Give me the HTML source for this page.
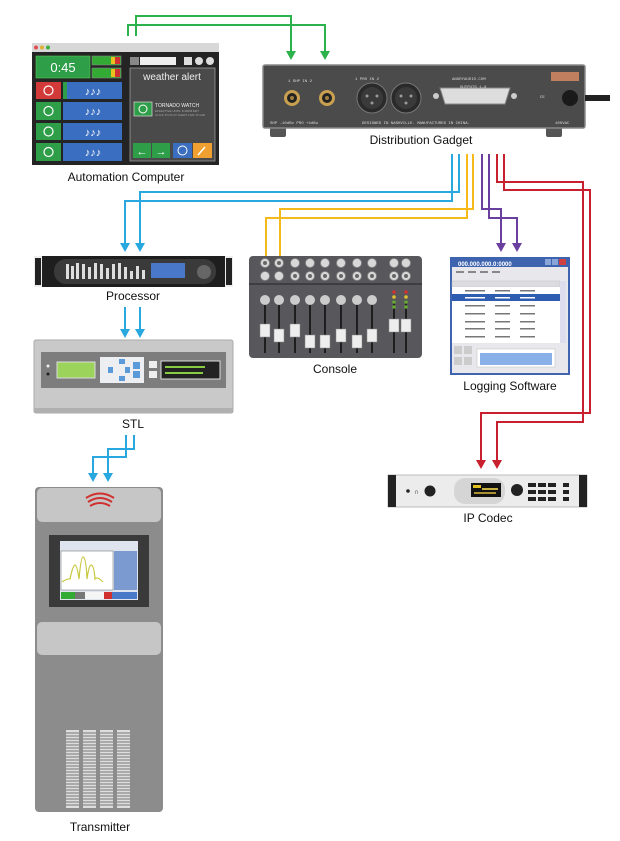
<!DOCTYPE html>
<html><head><meta charset="utf-8"><style>
html,body{margin:0;padding:0;background:#fff;}
svg{display:block;font-family:"Liberation Sans",Arial,sans-serif;}
</style></head><body>
<svg width="620" height="841" viewBox="0 0 620 841" xmlns="http://www.w3.org/2000/svg">
<defs>
<marker id="ag" markerWidth="8" markerHeight="8" refX="4" refY="7" orient="auto" markerUnits="userSpaceOnUse"><path d="M0,0 L8,0 L4,8z" fill="#2bb24c" transform="translate(0,0)"/></marker>
</defs>
<!-- ============ CONNECTORS ============ -->
<g fill="none" stroke-width="2">
 <!-- green -->
 <path d="M128,36 V25 H325 V52" stroke="#2bb24c"/>
 <path d="M136,36 V16 H291 V52" stroke="#2bb24c"/>
 <!-- blue -->
 <path d="M452,154 V201 H125 V244" stroke="#29a8e0"/>
 <path d="M459,154 V192 H140 V244" stroke="#29a8e0"/>
 <path d="M125,307 V330" stroke="#29a8e0"/>
 <path d="M140,307 V330" stroke="#29a8e0"/>
 <path d="M126,435 V457 H93 V474" stroke="#29a8e0"/>
 <path d="M134,435 V449 H108 V474" stroke="#29a8e0"/>
 <!-- yellow -->
 <path d="M467,154 V218 H266 V268" stroke="#f6b91a"/>
 <path d="M473,154 V209 H280 V268" stroke="#f6b91a"/>
 <!-- purple -->
 <path d="M482,154 V209 H501 V244" stroke="#6b3fa0"/>
 <path d="M489,154 V218 H517 V244" stroke="#6b3fa0"/>
 <!-- red -->
 <path d="M497,154 V182 H583 V422 H497 V461" stroke="#c8202e"/>
 <path d="M504,154 V190 H590 V413 H481 V461" stroke="#c8202e"/>
</g>
<g>
 <path d="M286,51 h10 l-5,9z M320,51 h10 l-5,9z" fill="#2bb24c"/>
 <path d="M120,243 h10 l-5,9z M135,243 h10 l-5,9z M120,329 h10 l-5,9z M135,329 h10 l-5,9z M88,473 h10 l-5,9z M103,473 h10 l-5,9z" fill="#29a8e0"/>
 <path d="M261,267 h10 l-5,9z M275,267 h10 l-5,9z" fill="#f6b91a"/>
 <path d="M496,243 h10 l-5,9z M512,243 h10 l-5,9z" fill="#6b3fa0"/>
 <path d="M476,460 h10 l-5,9z M492,460 h10 l-5,9z" fill="#c8202e"/>
</g>

<!-- ============ AUTOMATION COMPUTER ============ -->
<g>
 <rect x="32" y="43" width="187" height="122" fill="#242424"/>
 <rect x="32" y="43" width="187" height="9" fill="#d8d8d8"/>
 <circle cx="36" cy="47.5" r="2" fill="#e05050"/><circle cx="42" cy="47.5" r="2" fill="#e0b030"/><circle cx="48" cy="47.5" r="2" fill="#40b040"/>
 <rect x="36" y="56" width="54" height="22" fill="#2e9e48" stroke="#5c5" stroke-width="0.6"/>
 <text x="63" y="72" font-size="13" fill="#fff" text-anchor="middle">0:45</text>
 <rect x="92" y="56" width="29" height="9" fill="#3a3" stroke="#888" stroke-width="0.6"/><rect x="111" y="57" width="4" height="7" fill="#e8c020"/><rect x="115" y="57" width="5" height="7" fill="#d03030"/>
 <rect x="92" y="68" width="29" height="10" fill="#3a3" stroke="#888" stroke-width="0.6"/><rect x="111" y="69" width="4" height="8" fill="#e8c020"/><rect x="115" y="69" width="5" height="8" fill="#d03030"/>
 <g font-size="11" fill="#fff" text-anchor="middle">
  <rect x="36" y="82" width="25" height="17" fill="#d23a3a"/><circle cx="48.5" cy="90.5" r="4.5" fill="none" stroke="#fff" stroke-width="1.2"/>
  <rect x="63" y="82" width="59" height="17" fill="#3a6ec0"/><rect x="63" y="82" width="4" height="17" fill="#2e9e48"/><text x="93" y="95">♪♪♪</text>
  <rect x="36" y="102" width="25" height="18" fill="#2e9e48"/><circle cx="48.5" cy="111" r="4.5" fill="none" stroke="#fff" stroke-width="1.2"/>
  <rect x="63" y="102" width="59" height="18" fill="#3a6ec0"/><text x="93" y="115">♪♪♪</text>
  <rect x="36" y="123" width="25" height="17" fill="#2e9e48"/><circle cx="48.5" cy="131.5" r="4.5" fill="none" stroke="#fff" stroke-width="1.2"/>
  <rect x="63" y="123" width="59" height="17" fill="#3a6ec0"/><text x="93" y="136">♪♪♪</text>
  <rect x="36" y="143" width="25" height="18" fill="#2e9e48"/><circle cx="48.5" cy="152" r="4.5" fill="none" stroke="#fff" stroke-width="1.2"/>
  <rect x="63" y="143" width="59" height="18" fill="#3a6ec0"/><text x="93" y="156">♪♪♪</text>
 </g>
 <rect x="130" y="57" width="9" height="8" fill="#888"/><rect x="140" y="57" width="36" height="8" fill="#eee"/>
 <rect x="184" y="57" width="8" height="8" fill="#ddd"/><circle cx="199" cy="61" r="4" fill="#ddd"/><circle cx="210" cy="61" r="4" fill="#ddd"/>
 <rect x="130" y="68" width="85" height="93" fill="#4a4a4a" stroke="#999" stroke-width="0.8"/>
 <text x="172" y="80" font-size="10" fill="#eee" text-anchor="middle">weather alert</text>
 <rect x="134" y="102" width="18" height="14" fill="#2e9e48" stroke="#ccc" stroke-width="0.8"/><circle cx="143" cy="109" r="4" fill="none" stroke="#fff"/>
 <text x="155" y="107" font-size="5" fill="#eee">TORNADO WATCH</text>
 <text x="155" y="112" font-size="3" fill="#aaa">EFFECTIVE UNTIL 8:30PM EDT</text>
 <text x="155" y="116" font-size="3" fill="#aaa">CLICK TO PLAY ALERT LIVE TO AIR</text>
 <rect x="133" y="143" width="18" height="15" fill="#2e9e48"/><text x="142" y="155" font-size="11" fill="#fff" text-anchor="middle">←</text>
 <rect x="152" y="143" width="18" height="15" fill="#2e9e48"/><text x="161" y="155" font-size="11" fill="#fff" text-anchor="middle">→</text>
 <rect x="173" y="143" width="19" height="15" fill="#3a6ec0"/><circle cx="182.5" cy="150.5" r="4.5" fill="none" stroke="#fff"/>
 <rect x="193" y="143" width="19" height="15" fill="#f0a030"/><path d="M198,155 l7,-8" stroke="#fff" stroke-width="1.5"/>
 <text x="126" y="181" font-size="12" fill="#111" text-anchor="middle">Automation Computer</text>
</g>

<!-- ============ DISTRIBUTION GADGET ============ -->
<g>
 <rect x="270" y="126" width="16" height="11" rx="2" fill="#555"/><rect x="546" y="126" width="16" height="11" rx="2" fill="#555"/>
 <rect x="263" y="65" width="322" height="63" rx="2" fill="#4b4b4b" stroke="#8a8a8a" stroke-width="1.5"/>
 <path d="M585,98 H610" stroke="#222" stroke-width="6"/>
 <circle cx="570" cy="98" r="8" fill="#1a1a1a"/>
 <circle cx="292" cy="98" r="8" fill="#c8a050"/><circle cx="292" cy="98" r="5" fill="#222"/><circle cx="292" cy="98" r="2" fill="#a08040"/>
 <circle cx="327" cy="98" r="8" fill="#c8a050"/><circle cx="327" cy="98" r="5" fill="#222"/><circle cx="327" cy="98" r="2" fill="#a08040"/>
 <circle cx="372" cy="98" r="15" fill="#2a2a2a" stroke="#777"/><circle cx="372" cy="98" r="11" fill="#3a3a3a"/>
 <circle cx="367" cy="96" r="1.5" fill="#999"/><circle cx="377" cy="96" r="1.5" fill="#999"/><circle cx="372" cy="103" r="1.5" fill="#999"/>
 <circle cx="406" cy="98" r="15" fill="#2a2a2a" stroke="#777"/><circle cx="406" cy="98" r="11" fill="#3a3a3a"/>
 <circle cx="401" cy="96" r="1.5" fill="#999"/><circle cx="411" cy="96" r="1.5" fill="#999"/><circle cx="406" cy="103" r="1.5" fill="#999"/>
 <path d="M440,88 H510 L505,104 H445z" fill="#ddd" stroke="#888"/>
 <circle cx="436" cy="96" r="3" fill="#ccc"/><circle cx="514" cy="96" r="3" fill="#ccc"/>
 <rect x="551" y="72" width="28" height="9" fill="#c08060"/>
 <g font-size="4" fill="#ddd" font-family="Liberation Mono,monospace">
  <text x="288" y="82">1  SHP IN  2</text><text x="355" y="80">1     PRO IN     2</text>
 <text x="452" y="80">ANGRYAUDIO.COM</text><text x="460" y="88">OUTPUTS 1-8</text>
 <text x="270" y="124">SHP -10dBv   PRO +4dBu</text><text x="362" y="124">DESIGNED IN NASHVILLE. MANUFACTURED IN CHINA.</text>
 <text x="540" y="98">CE</text><text x="555" y="124">100VAC</text></g>
 <text x="421" y="144" font-size="12" fill="#111" text-anchor="middle">Distribution Gadget</text>
</g>

<!-- ============ PROCESSOR ============ -->
<g>
 <rect x="34" y="256" width="199" height="31" fill="#1e1e1e"/>
 <rect x="34" y="256" width="8" height="31" fill="#eee"/><rect x="225" y="256" width="8" height="31" fill="#eee"/>
 <rect x="35" y="258" width="6" height="27" fill="#222"/><rect x="226" y="258" width="6" height="27" fill="#222"/>
 <rect x="54" y="259" width="162" height="25" rx="12" fill="#3a3a3a"/>
 <g fill="#ddd">
  <rect x="66" y="264" width="3" height="15"/><rect x="71" y="266" width="3" height="13"/><rect x="76" y="263" width="3" height="16"/><rect x="82" y="264" width="3" height="15"/><rect x="88" y="267" width="3" height="12"/><rect x="94" y="263" width="3" height="16"/><rect x="100" y="264" width="3" height="15"/><rect x="106" y="268" width="3" height="11"/><rect x="112" y="264" width="3" height="15"/><rect x="118" y="263" width="3" height="16"/><rect x="124" y="267" width="3" height="12"/><rect x="130" y="271" width="3" height="8"/><rect x="136" y="266" width="3" height="13"/><rect x="142" y="270" width="3" height="9"/>
 </g>
 <rect x="151" y="263" width="34" height="15" fill="#4a78c8"/>
 <circle cx="204" cy="272" r="7" fill="#666"/>
 <text x="133" y="300" font-size="12" fill="#111" text-anchor="middle">Processor</text>
</g>

<!-- ============ STL ============ -->
<g>
 <rect x="34" y="340" width="199" height="73" rx="2" fill="#c9c9c9" stroke="#aaa"/>
 <rect x="34" y="408" width="199" height="5" fill="#b0b0b0"/>
 <rect x="41" y="352" width="185" height="36" fill="#7d7d7d"/>
 <circle cx="48" cy="366" r="1.5" fill="#eee"/><circle cx="48" cy="374" r="1.5" fill="#222"/>
 <rect x="57" y="362" width="38" height="16" fill="#9cd35a" stroke="#ddd"/>
 <rect x="100" y="357" width="44" height="26" fill="#eceef2"/>
 <rect x="119" y="359" width="6" height="5" fill="#5a9ad8"/><rect x="119" y="376" width="6" height="5" fill="#5a9ad8"/><rect x="108" y="367" width="5" height="6" fill="#5a9ad8"/><rect x="125" y="367" width="5" height="6" fill="#5a9ad8"/><rect x="133" y="362" width="7" height="7" fill="#5a9ad8"/><rect x="133" y="371" width="7" height="7" fill="#5a9ad8"/>
 <rect x="149" y="361" width="8" height="7" fill="#eee"/><rect x="149" y="371" width="8" height="7" fill="#eee"/>
 <rect x="161" y="361" width="59" height="18" fill="#222" stroke="#ddd"/>
 <rect x="165" y="366" width="40" height="2" fill="#8c4"/><rect x="165" y="372" width="38" height="2" fill="#8c4"/>
 <text x="133" y="428" font-size="12" fill="#111" text-anchor="middle">STL</text>
</g>

<!-- ============ TRANSMITTER ============ -->
<g>
 <rect x="35" y="487" width="128" height="325" rx="4" fill="#8c8c8c"/>
 <rect x="37" y="488" width="124" height="34" rx="5" fill="#c6c6c6"/>
 <g fill="none" stroke="#d03030" stroke-width="2"><path d="M90,506 q10,-6 20,0"/><path d="M88,502 q12,-8 24,0"/><path d="M86,498 q14,-9 28,0"/></g>
 <rect x="49" y="535" width="100" height="72" fill="#3a3a3a"/>
 <rect x="60" y="541" width="78" height="59" fill="#dfe4ef"/>
 <rect x="61" y="551" width="52" height="39" fill="#fff" stroke="#666" stroke-width="0.5"/>
 <path d="M62,582 q6,-4 8,-3 q3,-14 5,-14 q2,0 4,14 q2,-22 4,-22 q3,0 4,22 q2,-14 4,-14 q3,0 4,14 q2,-3 8,3" fill="none" stroke="#c8c840" stroke-width="1.2"/>
 <rect x="114" y="551" width="23" height="39" fill="#7a9ad0"/>
 <rect x="61" y="592" width="14" height="7" fill="#3a3"/><rect x="75" y="592" width="10" height="7" fill="#777"/><rect x="85" y="592" width="20" height="7" fill="#f5f5f5"/><rect x="104" y="592" width="8" height="7" fill="#d03030"/><rect x="112" y="592" width="25" height="7" fill="#4a78c8"/>
 <rect x="37" y="622" width="124" height="33" rx="5" fill="#c6c6c6"/>
 <g fill="#ddd">
  <rect x="66" y="730" width="13" height="78"/><rect x="83" y="730" width="13" height="78"/><rect x="100" y="730" width="13" height="78"/><rect x="117" y="730" width="13" height="78"/>
 </g>
 <g stroke="#8c8c8c" stroke-width="1.2">
  <path d="M66,733H130M66,736H130M66,739H130M66,742H130M66,745H130M66,748H130M66,751H130M66,754H130M66,757H130M66,760H130M66,763H130M66,766H130M66,769H130M66,772H130M66,775H130M66,778H130M66,781H130M66,784H130M66,787H130M66,790H130M66,793H130M66,796H130M66,799H130M66,802H130M66,805H130"/>
 </g>
 <text x="100" y="831" font-size="12" fill="#111" text-anchor="middle">Transmitter</text>
</g>

<!-- ============ CONSOLE ============ -->
<g>
 <rect x="249" y="256" width="173" height="102" rx="4" fill="#58585c"/>
 <rect x="249" y="283" width="173" height="2" fill="#3e3e42"/>
 <g fill="#d8d8d8" stroke="#888" stroke-width="0.8">
  <circle cx="265" cy="263" r="4.5"/><circle cx="279" cy="263" r="4.5"/><circle cx="295" cy="263" r="4.5"/><circle cx="310" cy="263" r="4.5"/><circle cx="325" cy="263" r="4.5"/><circle cx="341" cy="263" r="4.5"/><circle cx="357" cy="263" r="4.5"/><circle cx="372" cy="263" r="4.5"/><circle cx="394" cy="263" r="4.5"/><circle cx="406" cy="263" r="4.5"/>
  <circle cx="265" cy="276" r="4.5"/><circle cx="279" cy="276" r="4.5"/><circle cx="295" cy="276" r="4.5"/><circle cx="310" cy="276" r="4.5"/><circle cx="325" cy="276" r="4.5"/><circle cx="341" cy="276" r="4.5"/><circle cx="357" cy="276" r="4.5"/><circle cx="372" cy="276" r="4.5"/><circle cx="394" cy="276" r="4.5"/><circle cx="406" cy="276" r="4.5"/>
 </g>
 <g fill="#666"><circle cx="265" cy="263" r="2"/><circle cx="279" cy="263" r="2"/><circle cx="295" cy="276" r="2"/><circle cx="310" cy="276" r="2"/><circle cx="325" cy="276" r="2"/><circle cx="341" cy="276" r="2"/><circle cx="357" cy="276" r="2"/><circle cx="372" cy="276" r="2"/><circle cx="394" cy="276" r="2"/><circle cx="406" cy="276" r="2"/></g>
 <g stroke="#1e1e1e" stroke-width="2">
  <path d="M265,300V353M279,300V353M295,300V353M310,300V353M325,300V353M341,300V353M357,300V353M372,300V353M394,300V353M406,300V353"/>
 </g>
 <g fill="#ccc"><circle cx="265" cy="300" r="5"/><circle cx="279" cy="300" r="5"/><circle cx="295" cy="300" r="5"/><circle cx="310" cy="300" r="5"/><circle cx="325" cy="300" r="5"/><circle cx="341" cy="300" r="5"/><circle cx="357" cy="300" r="5"/><circle cx="372" cy="300" r="5"/></g>
 <g fill="#d03030"><circle cx="394" cy="292" r="1.8"/><circle cx="406" cy="292" r="1.8"/></g>
 <g fill="#e0c030"><circle cx="394" cy="297" r="1.8"/><circle cx="406" cy="297" r="1.8"/></g>
 <g fill="#6a3"><circle cx="394" cy="302" r="1.8"/><circle cx="406" cy="302" r="1.8"/><circle cx="394" cy="307" r="1.8"/><circle cx="406" cy="307" r="1.8"/></g>
 <g fill="#eee" stroke="#888" stroke-width="0.5">
  <rect x="260" y="324" width="10" height="13"/><rect x="274" y="329" width="10" height="13"/><rect x="290" y="324" width="10" height="13"/><rect x="305" y="335" width="10" height="13"/><rect x="320" y="335" width="10" height="13"/><rect x="336" y="329" width="10" height="13"/><rect x="352" y="335" width="10" height="13"/><rect x="367" y="329" width="10" height="13"/><rect x="389" y="319" width="10" height="13"/><rect x="401" y="319" width="10" height="13"/>
 </g>
 <text x="335" y="373" font-size="12" fill="#111" text-anchor="middle">Console</text>
</g>

<!-- ============ LOGGING SOFTWARE ============ -->
<g>
 <rect x="450" y="257" width="120" height="118" fill="#3e64b0"/>
 <rect x="452" y="267" width="116" height="106" fill="#e8e8ec"/>
 <text x="458" y="266" font-size="6" fill="#fff" font-weight="bold">000.000.000.0:0000</text>
 <rect x="545" y="259" width="6" height="6" fill="#8aa6d8"/><rect x="552" y="259" width="6" height="6" fill="#8aa6d8"/><rect x="559" y="259" width="7" height="6" fill="#d04040"/>
 <g fill="#888"><rect x="456" y="271" width="8" height="2"/><rect x="468" y="271" width="8" height="2"/><rect x="480" y="271" width="8" height="2"/><rect x="492" y="271" width="8" height="2"/></g>
 <rect x="452" y="281" width="108" height="6" fill="#dcdce0" stroke="#bbb" stroke-width="0.4"/>
 <rect x="452" y="287" width="108" height="56" fill="#fff"/>
 <rect x="452" y="294" width="108" height="7" fill="#2e5cb0"/>
 <rect x="560" y="281" width="6" height="62" fill="#dde"/>
 <g fill="#777"><rect x="465" y="290" width="20" height="1.5"/><rect x="495" y="290" width="15" height="1.5"/><rect x="520" y="290" width="15" height="1.5"/>
 <rect x="465" y="305" width="20" height="1.5"/><rect x="495" y="305" width="15" height="1.5"/><rect x="520" y="305" width="15" height="1.5"/>
 <rect x="465" y="313" width="20" height="1.5"/><rect x="495" y="313" width="15" height="1.5"/><rect x="520" y="313" width="15" height="1.5"/>
 <rect x="465" y="321" width="20" height="1.5"/><rect x="495" y="321" width="15" height="1.5"/><rect x="520" y="321" width="15" height="1.5"/>
 <rect x="465" y="328" width="20" height="1.5"/><rect x="495" y="328" width="15" height="1.5"/><rect x="520" y="328" width="15" height="1.5"/>
 <rect x="465" y="336" width="20" height="1.5"/><rect x="495" y="336" width="15" height="1.5"/><rect x="520" y="336" width="15" height="1.5"/></g>
 <g fill="#fff"><rect x="465" y="297" width="20" height="1.5"/><rect x="495" y="297" width="15" height="1.5"/><rect x="520" y="297" width="15" height="1.5"/></g>
 <rect x="454" y="346" width="8" height="8" fill="#ccc"/><rect x="464" y="346" width="8" height="8" fill="#ccc"/><rect x="454" y="357" width="8" height="8" fill="#ccc"/><rect x="464" y="357" width="8" height="8" fill="#ccc"/>
 <rect x="477" y="349" width="78" height="18" fill="#fff" stroke="#bbb" stroke-width="0.5"/>
 <rect x="480" y="353" width="72" height="12" fill="#8ab0e8"/>
 <text x="510" y="390" font-size="12" fill="#111" text-anchor="middle">Logging Software</text>
</g>

<!-- ============ IP CODEC ============ -->
<g>
 <rect x="388" y="475" width="199" height="32" fill="#ececec" stroke="#bbb"/>
 <rect x="388" y="475" width="8" height="32" fill="#222"/><rect x="579" y="475" width="8" height="32" fill="#222"/>
 <circle cx="408" cy="491" r="1.8" fill="#222"/><text x="414" y="494" font-size="7" fill="#222">∩</text><circle cx="430" cy="491" r="5.5" fill="#222"/>
 <rect x="454" y="478" width="51" height="26" rx="11" fill="#d5d5d5"/>
 <rect x="471" y="483" width="30" height="14" fill="#111"/><rect x="473" y="485" width="8" height="3" fill="#e0c020"/><rect x="482" y="488" width="16" height="2" fill="#c8b040"/><rect x="474" y="492" width="22" height="2" fill="#a89030"/>
 <circle cx="517" cy="490" r="6" fill="#222"/>
 <g fill="#222"><rect x="528" y="483" width="8" height="4"/><rect x="538" y="483" width="8" height="4"/><rect x="548" y="483" width="8" height="4"/><rect x="563" y="483" width="6" height="4"/>
 <rect x="528" y="490" width="8" height="4"/><rect x="538" y="490" width="8" height="4"/><rect x="548" y="490" width="8" height="4"/><rect x="563" y="490" width="6" height="4"/>
 <rect x="528" y="497" width="8" height="4"/><rect x="538" y="497" width="8" height="4"/><rect x="548" y="497" width="8" height="4"/><rect x="563" y="497" width="6" height="4"/></g>
 <text x="488" y="522" font-size="12" fill="#111" text-anchor="middle">IP Codec</text>
</g>
</svg>
</body></html>
